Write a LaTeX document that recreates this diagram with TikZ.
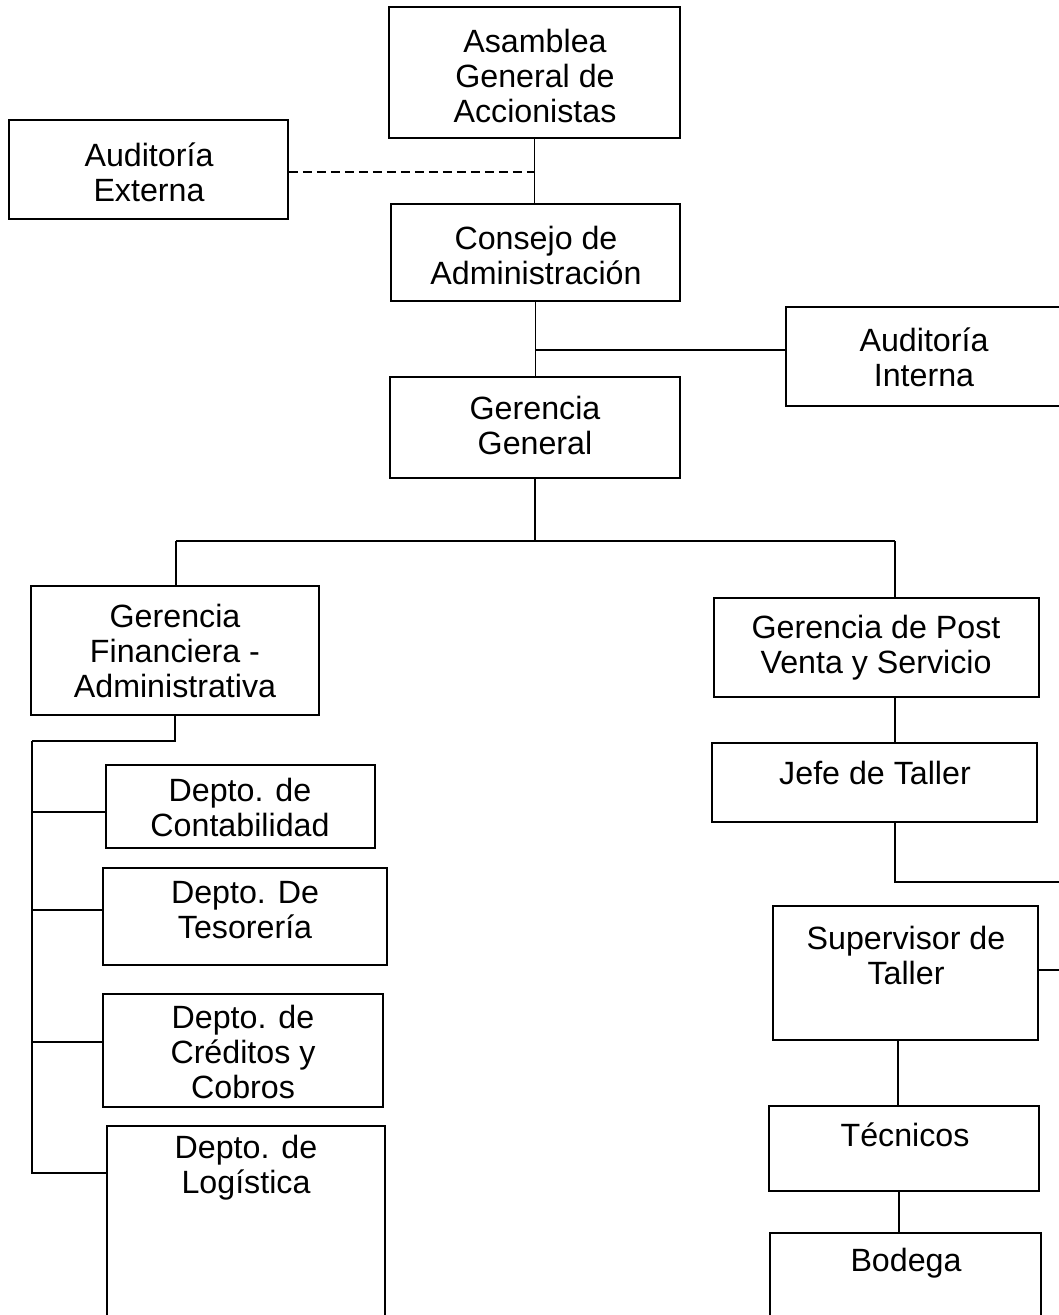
\documentclass[tikz,border=0pt]{standalone}
\usepackage{fontspec}
\setmainfont{Liberation Sans}
\begin{document}
\begin{tikzpicture}[x=1pt,y=-1pt,
  box/.style={draw, line width=1.6pt, inner sep=0pt},
  lbl/.style={align=center, inner sep=0pt, font=\fontsize{32.2}{35}\selectfont},
  conn/.style={line width=1.6pt},
  dconn/.style={line width=1.6pt, dash pattern=on 9pt off 5pt}]
\clip (0,0) rectangle (1059,1315);
\fill[white] (0,0) rectangle (1059,1315);

% boxes
\node[box, minimum width=291pt, minimum height=131pt] (asam) at (534.5,72.5) {};
\node[box, minimum width=279pt, minimum height=99pt] (ext) at (148.5,169.5) {};
\node[box, minimum width=289pt, minimum height=97pt] (cons) at (535.5,252.5) {};
\node[box, minimum width=294pt, minimum height=99pt] (intr) at (933,356.5) {};
\node[box, minimum width=290pt, minimum height=101pt] (gg) at (535,427.5) {};
\node[box, minimum width=288pt, minimum height=129pt] (gfa) at (175,650.5) {};
\node[box, minimum width=325pt, minimum height=99pt] (gpv) at (876.5,647.5) {};
\node[box, minimum width=325pt, minimum height=79pt] (jefe) at (874.5,782.5) {};
\node[box, minimum width=265pt, minimum height=134pt] (sup) at (905.5,973) {};
\node[box, minimum width=270pt, minimum height=85pt] (tec) at (904,1148.5) {};
\node[box, minimum width=271pt, minimum height=102pt] (bod) at (905.5,1284) {};
\node[box, minimum width=269pt, minimum height=83pt] (cont) at (240.5,806.5) {};
\node[box, minimum width=284pt, minimum height=97pt] (tes) at (245,916.5) {};
\node[box, minimum width=280pt, minimum height=113pt] (cred) at (243,1050.5) {};
\node[box, minimum width=278pt, minimum height=209pt] (log) at (246,1230.5) {};

% texts
\node[lbl] (t-asam) at (535,76) {Asamblea\\General de\\Accionistas};
\node[lbl] (t-ext) at (149,172) {Auditoría\\Externa};
\node[lbl] (t-cons) at (536,255) {Consejo de\\Administración};
\node[lbl] (t-intr) at (924,357) {Auditoría\\Interna};
\node[lbl] (t-gg) at (535,425) {Gerencia\\General};
\node[lbl] (t-gfa) at (175,651) {Gerencia\\Financiera -\\Administrativa};
\node[lbl] (t-gpv) at (876,648) {Gerencia de Post\\Venta y Servicio};
\node[lbl] (t-jefe) at (875,773) {Jefe de Taller};
\node[lbl] (t-cont) at (240,807) {Depto. de\\Contabilidad};
\node[lbl] (t-tes) at (245,910) {Depto. De\\Tesorería};
\node[lbl] (t-cred) at (243,1052) {Depto. de\\Créditos y\\Cobros};
\node[lbl] (t-log) at (246,1168) {Depto. de\\Logística};
\node[lbl] (t-sup) at (906,955) {Supervisor de\\Taller};
\node[lbl] (t-tec) at (905,1135) {Técnicos};
\node[lbl] (t-bod) at (906,1263) {Bodega};

% junction coordinates
\coordinate (j1) at (535,350);
\coordinate (bl) at (176,541);
\coordinate (br) at (895,541);
\coordinate (jt) at (1070,882);
\coordinate (st) at (1070,970);
\coordinate (xs) at (898,0);
\coordinate (xt) at (899,0);
\coordinate (lb) at (32,741);
\coordinate (le) at (32,1174);
\coordinate (c1) at (32,812);
\coordinate (c2) at (32,910);
\coordinate (c3) at (32,1042);
\coordinate (c4) at (32,1173);

% connectors
\draw[conn] (asam.south) -- (asam.south |- cons.north);
\draw[dconn] (ext.east |- 0,172) -- (asam.south |- 0,172);
\draw[conn] (cons.south) -- (cons.south |- gg.north);
\draw[conn] (j1) -- (j1 -| intr.west);
\draw[conn] (gg.south) -- (gg.south |- bl);
\draw[conn] (bl) -- (br);
\draw[conn] (bl) -- (bl |- gfa.north);
\draw[conn] (br) -- (br |- gpv.north);
\draw[conn] (br |- gpv.south) -- (br |- jefe.north);
\draw[conn] (br |- jefe.south) -- (br |- jt) -- (jt);
\draw[conn] (sup.east |- st) -- (st);
\draw[conn] (sup.south -| xs) -- (tec.north -| xs);
\draw[conn] (tec.south -| xt) -- (bod.north -| xt);
\draw[conn] (gfa.south) -- (gfa.south |- lb) -- (lb);
\draw[conn] (lb) -- (le);
\draw[conn] (c1) -- (c1 -| cont.west);
\draw[conn] (c2) -- (c2 -| tes.west);
\draw[conn] (c3) -- (c3 -| cred.west);
\draw[conn] (c4) -- (c4 -| log.west);
\end{tikzpicture}
\end{document}
